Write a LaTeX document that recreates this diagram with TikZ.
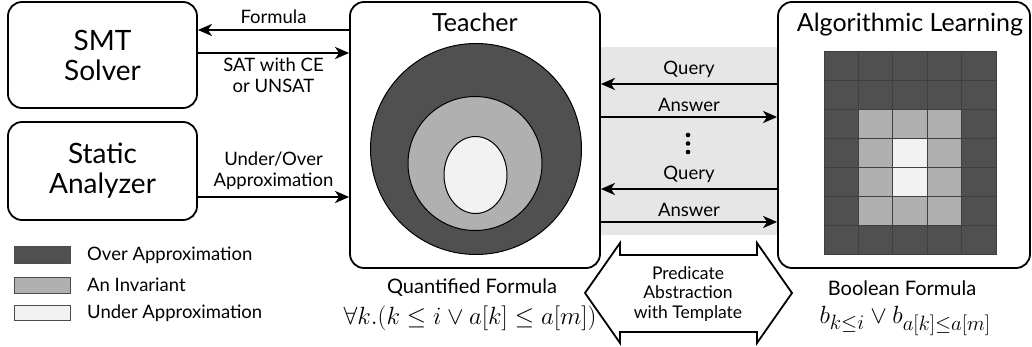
\documentclass[tikz,border=0pt]{standalone}
\usepackage{fontspec}
\setmainfont{Lato}
\usetikzlibrary{arrows.meta}
\definecolor{dk}{HTML}{505050}
\definecolor{md}{HTML}{B0B0B0}
\definecolor{lt}{HTML}{F2F2F2}
\definecolor{band}{HTML}{E6E6E6}
\begin{document}
\begin{tikzpicture}[x=1pt,y=-1pt,
  box/.style={draw,line width=1.8pt,rounded corners=14pt,inner sep=0pt},
  arr/.style={line width=2.6pt,-{Stealth[length=14pt,width=12pt,inset=4pt]}},
  lbl/.style={font=\fontsize{18.5}{21}\selectfont,align=center,inner sep=1pt},
  big/.style={font=\fontsize{28}{33}\selectfont,align=center},
  ttl/.style={font=\fontsize{25}{28}\selectfont},
  mid/.style={font=\fontsize{20}{22}\selectfont,align=center,inner sep=0pt},
  pred/.style={font=\fontsize{17.5}{19.5}\selectfont,align=center,inner sep=0pt},
  cell/.style={draw=black!75,line width=0.7pt},
  leg/.style={draw=black!70,line width=0.8pt},
]
\useasboundingbox (0,0) rectangle (1032,347);
% band
\fill[band] (600,47) rectangle (778,235);
% boxes
\node[box,big,minimum width=189pt,minimum height=106pt] (smt) at (102.5,55) {SMT\\[-3pt]Solver};
\node[box,big,minimum width=189pt,minimum height=98pt] (static) at (102.5,171) {Static\\[-3pt]Analyzer};
\node[box,minimum width=250pt,minimum height=266pt] (teacher) at (475,135) {};
\node[ttl] (tt) at (475,22) {Teacher};
\node[box,minimum width=252pt,minimum height=266pt] (learn) at (904,135) {};
\node[ttl] (lt) at (910,25) {Algorithmic Learning};
% circles
\draw[fill=dk,line width=1pt] (476,149) circle [radius=105.5pt];
\draw[fill=md,line width=1pt] (475,163.5) circle [radius=67pt];
\draw[fill=lt,line width=1pt] (475.5,175) ellipse [x radius=31.5pt, y radius=38.5pt];
% grid
\foreach \r in {0,...,6}{
  \foreach \c in {0,...,4}{
    \pgfmathsetmacro{\xa}{824+34.4*\c}
    \pgfmathsetmacro{\ya}{51+29*\r}
    \def\col{dk}
    \ifnum\r>1 \ifnum\r<6 \ifnum\c>0 \ifnum\c<4 \def\col{md}\fi\fi\fi\fi
    \ifnum\r>2 \ifnum\r<5 \ifnum\c=2 \def\col{lt}\fi\fi\fi
    \filldraw[cell,fill=\col] (\xa,\ya) rectangle ++(34.4,29);
  }
}
% left arrows
\draw[arr] (teacher.west |- 0,30) -- node[lbl,above=4pt]{Formula} (smt.east |- 0,30);
\draw[arr] (smt.east |- 0,53) -- node[lbl,below=3pt]{SAT with CE\\or UNSAT} (teacher.west |- 0,53);
\draw[arr] (static.east |- 0,197) -- node[lbl,above=5pt]{Under/Over\\Approximation} (teacher.west |- 0,197);
% query/answer
\draw[arr] (learn.west |- 0,84) -- node[lbl,above=4pt]{Query} (teacher.east |- 0,84);
\draw[arr] (teacher.east |- 0,117) -- node[lbl,above=3pt]{Answer} (learn.west |- 0,117);
\draw[arr] (learn.west |- 0,189) -- node[lbl,above=4pt]{Query} (teacher.east |- 0,189);
\draw[arr] (teacher.east |- 0,222) -- node[lbl,above=3pt]{Answer} (learn.west |- 0,222);
\fill (688,135) circle [radius=2.3pt] (688,143.5) circle [radius=2.3pt] (688,152) circle [radius=2.3pt];
% double arrow
\draw[line width=1.8pt,line join=miter,fill=white] (585,293) -- (620,243) -- (620,255) -- (757,255) -- (757,243) -- (792,293) -- (757,343) -- (757,332) -- (620,332) -- (620,343) -- cycle;
\node[pred] (pa) at (688,294) {Predicate\\Abstraction\\with Template};
% bottom labels
\node[mid] (qf) at (472,288) {Quantified Formula};
\node[font=\fontsize{23.5}{25}\selectfont,inner sep=0pt] (qm) at (470,318) {$\forall k.(k\le i\lor a[k]\le a[m])$};
\node[mid] (bf) at (902,288) {Boolean Formula};
\node[font=\fontsize{28}{30}\selectfont,inner sep=0pt] (bm) at (905,321) {$b_{k\le i}\lor b_{a[k]\le a[m]}$};
% legend
\filldraw[leg,fill=dk] (14,246) rectangle (70,263);
\filldraw[leg,fill=md] (14,277) rectangle (70,293);
\filldraw[leg,fill=lt] (14,305) rectangle (70,320);
\node[lbl,anchor=west] (l1) at (86,255) {Over Approximation};
\node[lbl,anchor=west] (l2) at (86,285) {An Invariant};
\node[lbl,anchor=west] (l3) at (86,313) {Under Approximation};
\end{tikzpicture}
\end{document}
